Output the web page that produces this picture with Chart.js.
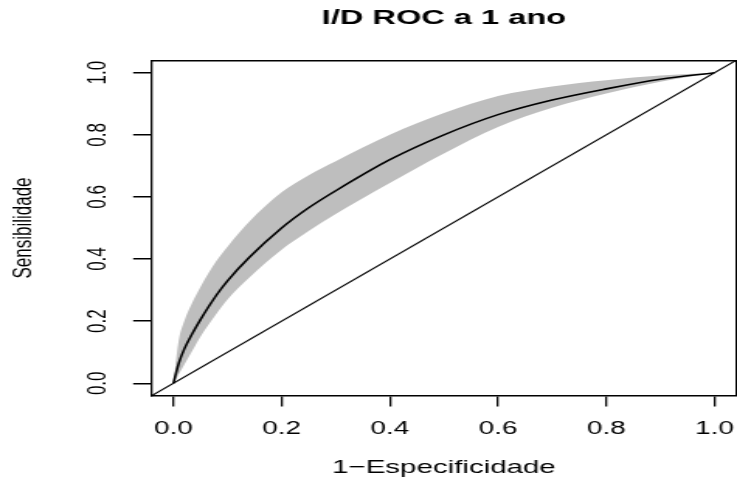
<!DOCTYPE html>
<html>
<head>
<meta charset="utf-8">
<script src="https://cdn.jsdelivr.net/npm/chart.js@4/dist/chart.umd.min.js"></script>
<style>
  html, body { margin: 0; padding: 0; background: #fff; overflow: hidden; }
  /* the plot is laid out narrow and then widened, like the R device it came from */
  #wrap { width: 475px; height: 481px; transform: scaleX(1.5516); transform-origin: 0 0; }
</style>
</head>
<body>
<div id="wrap"><canvas id="roc-chart-canvas" width="475" height="481"></canvas></div>
<script>
// ROC curve at 1 year with its confidence band
const fpr = [0, 0.01, 0.02, 0.035, 0.05, 0.08, 0.1, 0.14, 0.2, 0.25, 0.3, 0.4, 0.5, 0.6, 0.7, 0.8, 0.9, 1.0];
const tpr = [0, 0.065, 0.11, 0.16, 0.205, 0.285, 0.33, 0.405, 0.5, 0.565, 0.62, 0.72, 0.8, 0.865, 0.912, 0.948, 0.979, 1.0];
const tprUpper = [0, 0.14, 0.2, 0.26, 0.31, 0.395, 0.44, 0.52, 0.615, 0.67, 0.715, 0.80, 0.87, 0.925, 0.956, 0.976, 0.991, 1.0];
const tprLower = [0, 0.03, 0.06, 0.105, 0.15, 0.225, 0.27, 0.34, 0.43, 0.49, 0.545, 0.645, 0.74, 0.825, 0.887, 0.933, 0.971, 1.0];
const tickValues = [0, 0.2, 0.4, 0.6, 0.8, 1.0];

// R pads the data range by 4% on each side
const axisMin = -0.04;
const axisMax = 1.04;

const toPoints = (xs, ys) => xs.map((x, i) => ({ x: x, y: ys[i] }));
const fontFamily = '"Liberation Sans", Arial, Helvetica, sans-serif';
const setTicks = scale => { scale.ticks = tickValues.map(v => ({ value: v })); };

// keep the plot box fixed, whatever room the outer labels would like
const fixSize = (key, size) => scale => {
    scale[key] = size;
    scale.paddingLeft = 0;
    scale.paddingRight = 0;
    scale.paddingTop = 0;
    scale.paddingBottom = 0;
};

const rocChart = new Chart(document.getElementById('roc-chart-canvas'), {
    type: 'line',
    data: {
        datasets: [
            {
                label: 'upper',
                data: toPoints(fpr, tprUpper),
                borderWidth: 0,
                pointRadius: 0,
                backgroundColor: '#bebebe',
                fill: '+1',
                cubicInterpolationMode: 'monotone',
                order: 3
            },
            {
                label: 'lower',
                data: toPoints(fpr, tprLower),
                borderWidth: 0,
                pointRadius: 0,
                fill: false,
                cubicInterpolationMode: 'monotone',
                order: 3
            },
            {
                label: 'ROC',
                data: toPoints(fpr, tpr),
                borderColor: '#000',
                borderWidth: 1.6,
                pointRadius: 0,
                fill: false,
                cubicInterpolationMode: 'monotone',
                order: 1
            },
            {
                // abline(0, 1)
                label: 'chance',
                data: toPoints([axisMin, axisMax], [axisMin, axisMax]),
                borderColor: '#000',
                borderWidth: 1.1,
                pointRadius: 0,
                fill: false,
                order: 1
            }
        ]
    },
    options: {
        responsive: false,
        animation: false,
        layout: { padding: { top: 0, right: 0.6, bottom: 0, left: 0 } },
        plugins: {
            legend: { display: false },
            tooltip: { enabled: false },
            title: {
                display: true,
                text: 'I/D ROC a 1 ano',
                fullSize: false,
                color: '#000',
                font: { family: fontFamily, size: 21, weight: 'bold' },
                padding: { top: 5.7, bottom: 29.4 }
            }
        },
        scales: {
            x: {
                type: 'linear',
                min: axisMin,
                max: axisMax,
                afterBuildTicks: setTicks,
                afterFit: fixSize('height', 85.3),
                ticks: {
                    color: '#000',
                    font: { family: fontFamily, size: 18 },
                    padding: 12.3,
                    maxRotation: 0,
                    callback: v => v.toFixed(1)
                },
                grid: { drawOnChartArea: false, drawTicks: true, tickLength: 10.7, color: '#000', lineWidth: 1.3 },
                border: { display: true, color: '#000', width: 1.5 },
                title: {
                    display: true,
                    text: '1\u2212Especificidade',
                    color: '#000',
                    font: { family: fontFamily, size: 19 },
                    padding: { top: 0, bottom: 1.8 }
                }
            },
            y: {
                type: 'linear',
                min: axisMin,
                max: axisMax,
                afterBuildTicks: setTicks,
                afterFit: fixSize('width', 97.8),
                ticks: {
                    color: '#000',
                    font: { family: fontFamily, size: 17 },
                    padding: 10.3,
                    minRotation: 90,
                    maxRotation: 90,
                    crossAlign: 'center',
                    callback: v => v.toFixed(1)
                },
                grid: { drawOnChartArea: false, drawTicks: true, tickLength: 12, color: '#000', lineWidth: 1.5 },
                border: { display: true, color: '#000', width: 1.3 },
                title: {
                    display: true,
                    text: 'Sensibilidade',
                    color: '#000',
                    font: { family: fontFamily, size: 17 },
                    padding: { top: 4.8, bottom: 0 }
                }
            },
            // top and right sides of the box
            xTop: {
                type: 'linear',
                position: 'top',
                min: axisMin,
                max: axisMax,
                afterFit: fixSize('height', 0),
                ticks: { display: false },
                grid: { drawOnChartArea: false, drawTicks: false },
                border: { display: true, color: '#000', width: 1.5 }
            },
            yRight: {
                type: 'linear',
                position: 'right',
                min: axisMin,
                max: axisMax,
                afterFit: fixSize('width', 0),
                ticks: { display: false },
                grid: { drawOnChartArea: false, drawTicks: false },
                border: { display: true, color: '#000', width: 1.3 }
            }
        }
    }
});
</script>
</body>
</html>
